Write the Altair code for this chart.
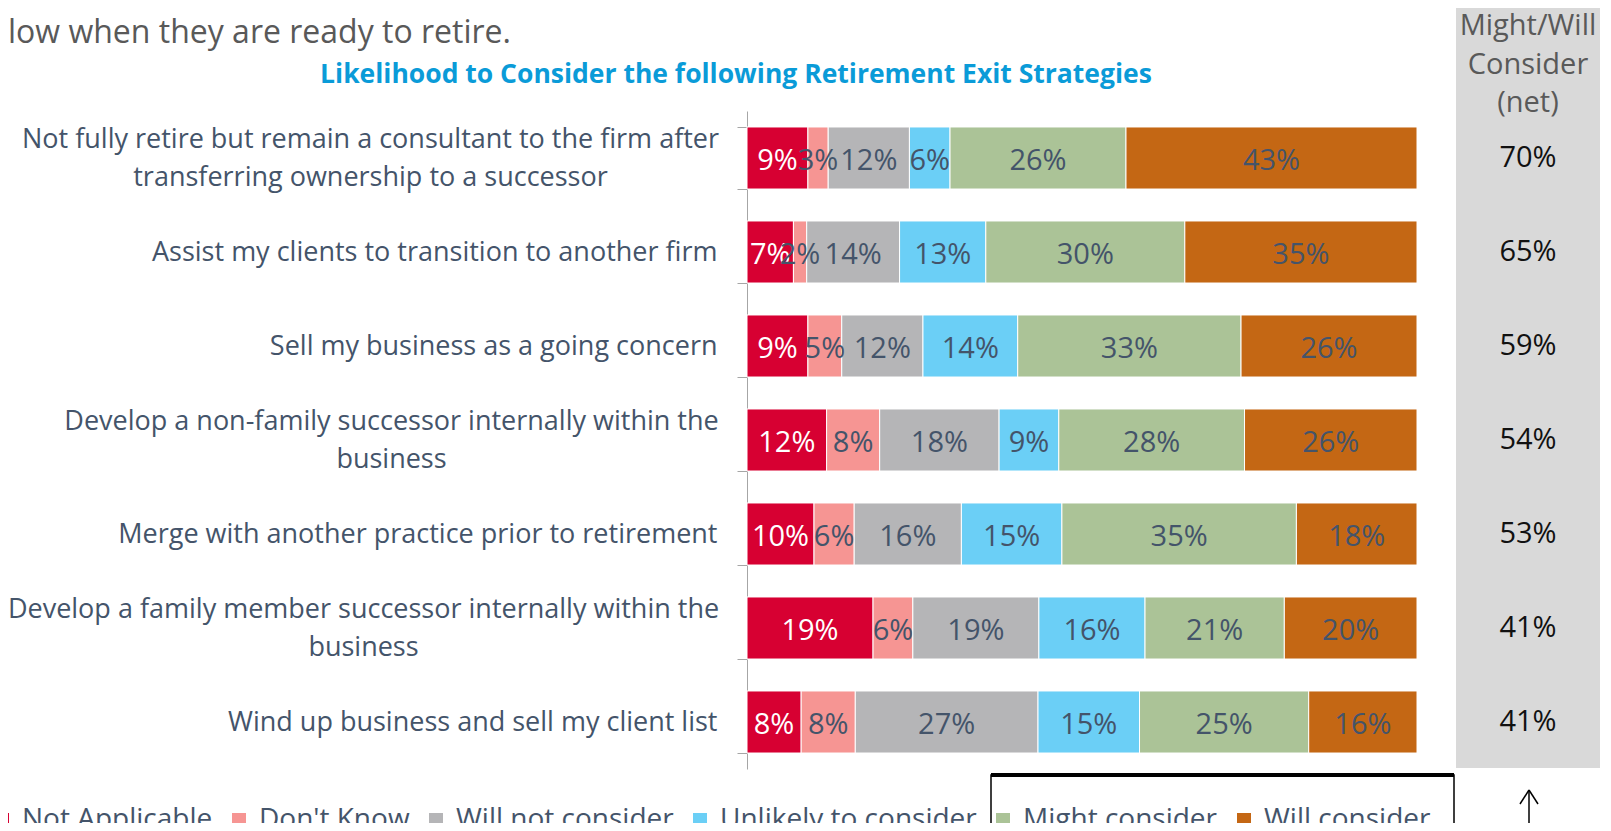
import altair as alt
import pandas as pd

strategies = [
    "Not fully retire but remain a consultant to the firm after|transferring ownership to a successor",
    "Assist my clients to transition to another firm",
    "Sell my business as a going concern",
    "Develop a non-family successor internally within the|business",
    "Merge with another practice prior to retirement",
    "Develop a family member successor internally within the|business",
    "Wind up business and sell my client list",
]
series = ["Not Applicable", "Don't Know", "Will not consider",
          "Unlikely to consider", "Might consider", "Will consider"]
not_applicable = [9, 7, 9, 12, 10, 19, 8]
dont_know = [3, 2, 5, 8, 6, 6, 8]
will_not = [12, 14, 12, 18, 16, 19, 27]
unlikely = [6, 13, 14, 9, 15, 16, 15]
might = [26, 30, 33, 28, 35, 21, 25]
will = [43, 35, 26, 26, 18, 20, 16]
net = [70, 65, 59, 54, 53, 41, 41]
colors = ["#D70032", "#F69593", "#B5B5B7", "#6BCFF6", "#ABC397", "#C46714"]

values_by_series = [not_applicable, dont_know, will_not, unlikely, might, will]
rows = []
for i, s in enumerate(strategies):
    for j, ser in enumerate(series):
        rows.append({"strategy": s, "series": ser, "order": j,
                     "value": values_by_series[j][i]})
df = pd.DataFrame(rows)
net_df = pd.DataFrame({"strategy": strategies, "net": net})

FONT = "Open Sans"
TXT = "#44546A"

ysc = alt.Scale(domain=strategies, paddingInner=0.34, paddingOuter=0.17)
xsc = alt.Scale(domain=[0, 1])

# two-line labels: lines centred under each other, block right-aligned
TICK = 10
PAD = 20
half_first_line = {0: 347, 3: 326, 5: 354}   # approx. half width (px) of first line
multi = "length(split(datum.label,'|')) > 1"
pad_cond = {
    "condition": [
        {"test": f"datum.value == {strategies[i]!r}", "value": PAD + w}
        for i, w in half_first_line.items()
    ],
    "value": PAD,
}
align_cond = {"condition": {"test": multi, "value": "center"}, "value": "right"}
offset_cond = {"condition": {"test": multi, "value": -19}, "value": 0}
label_expr = f"{multi} ? split(datum.label,'|') : datum.label"

base = (
    alt.Chart(df)
    .transform_joinaggregate(total="sum(value)", groupby=["strategy"])
    .transform_stack(stack="value", groupby=["strategy"], as_=["x0", "x1"],
                     sort=[alt.SortField("order", order="ascending")])
    .transform_calculate(s0="datum.x0/datum.total", s1="datum.x1/datum.total",
                         mid="(datum.x0+datum.x1)/2/datum.total",
                         lbl="datum.value + '%'")
)

bars = base.mark_bar(stroke="white", strokeWidth=1).encode(
    y=alt.Y("strategy:N", scale=ysc, sort=strategies, title=None,
            axis=alt.Axis(labelExpr=label_expr, labelFont=FONT, labelFontSize=27,
                          labelColor=TXT, labelLineHeight=38, labelPadding=pad_cond,
                          labelAlign=align_cond, labelOffset=offset_cond,
                          tickSize=TICK, tickBand="extent", domainColor="#A6A6A6",
                          tickColor="#A6A6A6", labelLimit=1000,
                          labelBaseline="middle")),
    x=alt.X("s0:Q", scale=xsc, axis=None),
    x2="s1:Q",
    color=alt.Color("series:N", scale=alt.Scale(domain=series, range=colors),
                    sort=series, title=None,
                    legend=alt.Legend(orient="none", direction="horizontal",
                                      legendX=-759, legendY=695,
                                      symbolType="square", symbolSize=196,
                                      symbolStrokeWidth=0, labelFont=FONT,
                                      labelFontSize=28, labelColor=TXT,
                                      columnPadding=12, labelOffset=6,
                                      labelLimit=400)),
    order=alt.Order("order:Q"),
)

labels = base.mark_text(font=FONT, fontSize=29, baseline="middle", align="center", dy=3).encode(
    y=alt.Y("strategy:N", scale=ysc, sort=strategies, title=None),
    x=alt.X("mid:Q", scale=xsc, axis=None),
    text="lbl:N",
    color=alt.condition("datum.series == 'Not Applicable'", alt.value("white"), alt.value(TXT)),
)

one = alt.Data(values=[{}])

gray_box = alt.Chart(one).mark_rect(color="#D9D9D9").encode(
    x=alt.value(709), x2=alt.value(853), y=alt.value(-110), y2=alt.value(657))

net_header = alt.Chart(one).mark_text(
    text=["Might/Will", "Consider", "(net)"], font=FONT, fontSize=29,
    color="#595959", lineHeight=38.5, align="center", baseline="middle").encode(
    x=alt.value(781), y=alt.value(-85))

net_text = alt.Chart(net_df).transform_calculate(lbl="datum.net + '%'").mark_text(
    font=FONT, fontSize=29, color="#111111", align="center", baseline="middle").encode(
    y=alt.Y("strategy:N", scale=ysc, sort=strategies, title=None),
    x=alt.value(781),
    text="lbl:N",
)

title = alt.Chart(one).mark_text(
    text="Likelihood to Consider the following Retirement Exit Strategies",
    font=FONT, fontSize=26.5, fontWeight="bold", color="#0A9BD8",
    align="center", baseline="middle").encode(x=alt.value(-11), y=alt.value(-36))

intro = alt.Chart(one).mark_text(
    text="low when they are ready to retire.", font=FONT, fontSize=32,
    color="#595959", align="left", baseline="middle").encode(
    x=alt.value(-739), y=alt.value(-78))

box = alt.Chart(one).mark_rect(fill=None, stroke="black", strokeWidth=1.5).encode(
    x=alt.value(244), x2=alt.value(707), y=alt.value(664), y2=alt.value(740))
box_top = alt.Chart(one).mark_rule(color="black", strokeWidth=4).encode(
    x=alt.value(244), x2=alt.value(707), y=alt.value(664), y2=alt.value(664))

arrow_shaft = alt.Chart(one).mark_rule(color="black", strokeWidth=1.5).encode(
    x=alt.value(782), x2=alt.value(782), y=alt.value(679), y2=alt.value(740))
arrow_l = alt.Chart(one).mark_rule(color="black", strokeWidth=1.5).encode(
    x=alt.value(773), x2=alt.value(782), y=alt.value(693), y2=alt.value(679))
arrow_r = alt.Chart(one).mark_rule(color="black", strokeWidth=1.5).encode(
    x=alt.value(791), x2=alt.value(782), y=alt.value(693), y2=alt.value(679))

chart = alt.layer(
    gray_box, bars, labels, net_header, net_text, title, intro,
    box, box_top, arrow_shaft, arrow_l, arrow_r
).properties(
    width=670, height=658,
    autosize=alt.AutoSizeParams(type="none"),
    padding={"left": 739, "top": 103, "right": 186, "bottom": 54},
).configure_view(stroke=None)

chart.save("out.html", embed_options={"renderer": "svg", "actions": False})
